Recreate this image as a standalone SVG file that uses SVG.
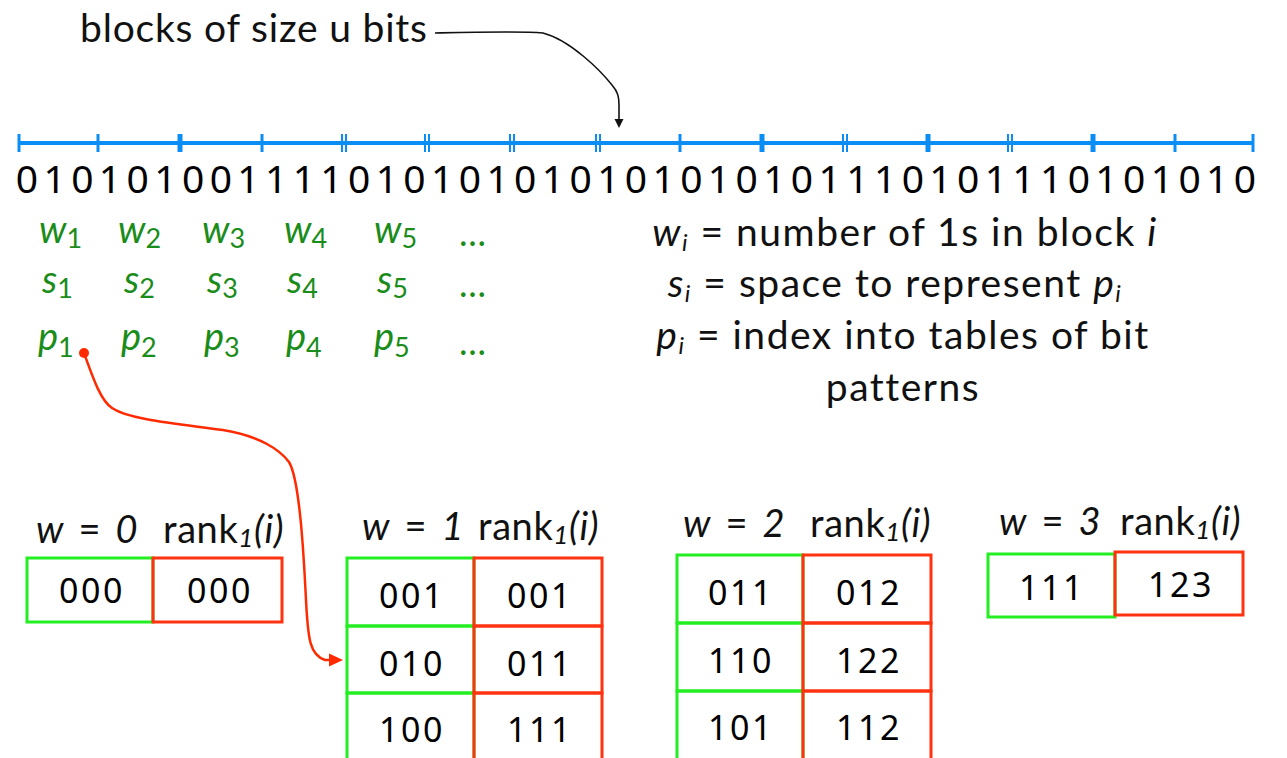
<svg xmlns="http://www.w3.org/2000/svg" width="1287" height="758" viewBox="0 0 1287 758">
<style>
.t{font-family:Lato,"Liberation Sans",sans-serif;font-size:39px;fill:#111;letter-spacing:1.5px}
.g{font-family:Lato,"Liberation Sans",sans-serif;fill:#1a8c1a}
.it{font-style:italic}
.sub{font-size:27px}
.bits{font-family:"Noto Sans","DejaVu Sans",sans-serif;font-size:39px;fill:#000}
.cell{font-family:"Noto Sans","DejaVu Sans",sans-serif;font-size:34px;fill:#000;letter-spacing:2.5px;text-anchor:middle}
.hd{font-family:Lato,"Liberation Sans",sans-serif;font-size:38px;fill:#111;letter-spacing:0.6px}
.gb{fill:none;stroke:#22ee22;stroke-width:3}
.rb{fill:none;stroke:#ff3311;stroke-width:3}
.bl{stroke:#0a8ef5;fill:none}
</style>
<rect width="1287" height="758" fill="#fff"/>

<g id="title">
<text class="t" x="80" y="42" style="letter-spacing:0.8px">blocks of size u bits</text>
</g>

<g id="bitline">
<line class="bl" x1="18" y1="143" x2="1253" y2="143" stroke-width="4"/>
<g class="bl" stroke-width="3">
<line x1="19" y1="134" x2="19" y2="152"/>
<line x1="98" y1="134" x2="98" y2="152"/>
<line x1="262" y1="134" x2="262" y2="152"/>
<line x1="680" y1="134" x2="680" y2="152"/>
<line x1="1175" y1="134" x2="1175" y2="152"/>
<line x1="1253" y1="134" x2="1253" y2="152"/>
</g>
<g class="bl" stroke-width="5">
<line x1="180" y1="134" x2="180" y2="152"/>
<line x1="762" y1="134" x2="762" y2="152"/>
<line x1="928" y1="134" x2="928" y2="152"/>
<line x1="1093" y1="134" x2="1093" y2="152"/>
</g>
<g class="bl" stroke-width="2">
<line x1="342" y1="134" x2="342" y2="152"/><line x1="346" y1="134" x2="346" y2="152"/>
<line x1="425" y1="134" x2="425" y2="152"/><line x1="429" y1="134" x2="429" y2="152"/>
<line x1="510" y1="134" x2="510" y2="152"/><line x1="514" y1="134" x2="514" y2="152"/>
<line x1="596" y1="134" x2="596" y2="152"/><line x1="600" y1="134" x2="600" y2="152"/>
<line x1="843" y1="134" x2="843" y2="152"/><line x1="847" y1="134" x2="847" y2="152"/>
<line x1="1008" y1="134" x2="1008" y2="152"/><line x1="1012" y1="134" x2="1012" y2="152"/>
</g>
</g>

<g id="bits">
<text class="bits" text-anchor="middle" y="193" x="27 54.7 82.4 110 137.7 165.4 193.1 220.8 248.4 276.1 303.8 331.5 359.2 386.8 414.5 442.2 469.9 497.6 525.2 552.9 580.6 608.3 636 663.6 691.3 719 746.7 774.4 802 829.7 857.4 885.1 912.8 940.4 968.1 995.8 1023.5 1051.2 1078.8 1106.5 1134.2 1161.9 1189.6 1217.2 1244.9">010101001111010101010101010101110101110101010</text>
</g>

<g id="labels" class="g">
<text x="39" y="243"><tspan class="it" font-size="38">w</tspan><tspan class="sub" dy="5">1</tspan></text>
<text x="118" y="243"><tspan class="it" font-size="38">w</tspan><tspan class="sub" dy="5">2</tspan></text>
<text x="202" y="243"><tspan class="it" font-size="38">w</tspan><tspan class="sub" dy="5">3</tspan></text>
<text x="284" y="243"><tspan class="it" font-size="38">w</tspan><tspan class="sub" dy="5">4</tspan></text>
<text x="374" y="243"><tspan class="it" font-size="38">w</tspan><tspan class="sub" dy="5">5</tspan></text>
<text x="459" y="246" font-size="36">…</text>
<text x="42" y="293"><tspan class="it" font-size="38">s</tspan><tspan class="sub" dy="5">1</tspan></text>
<text x="124" y="293"><tspan class="it" font-size="38">s</tspan><tspan class="sub" dy="5">2</tspan></text>
<text x="207" y="293"><tspan class="it" font-size="38">s</tspan><tspan class="sub" dy="5">3</tspan></text>
<text x="287" y="293"><tspan class="it" font-size="38">s</tspan><tspan class="sub" dy="5">4</tspan></text>
<text x="377" y="293"><tspan class="it" font-size="38">s</tspan><tspan class="sub" dy="5">5</tspan></text>
<text x="459" y="297" font-size="36">…</text>
<text x="38" y="350"><tspan class="it" font-size="38">p</tspan><tspan class="sub" dy="7">1</tspan></text>
<text x="121" y="350"><tspan class="it" font-size="38">p</tspan><tspan class="sub" dy="7">2</tspan></text>
<text x="204" y="350"><tspan class="it" font-size="38">p</tspan><tspan class="sub" dy="7">3</tspan></text>
<text x="286" y="350"><tspan class="it" font-size="38">p</tspan><tspan class="sub" dy="7">4</tspan></text>
<text x="374" y="350"><tspan class="it" font-size="38">p</tspan><tspan class="sub" dy="7">5</tspan></text>
<text x="459" y="355" font-size="36">…</text>
</g>

<g id="legend" class="t" text-anchor="middle">
<text x="905" y="246"><tspan class="it">w</tspan><tspan font-size="24" class="it" dy="5">i</tspan><tspan dy="-5"> = number of 1s in block </tspan><tspan class="it">i</tspan></text>
<text x="895" y="297"><tspan class="it">s</tspan><tspan font-size="24" class="it" dy="5">i</tspan><tspan dy="-5"> = space to represent </tspan><tspan class="it">p</tspan><tspan font-size="24" class="it" dy="5">i</tspan></text>
<text x="903" y="349"><tspan class="it">p</tspan><tspan font-size="24" class="it" dy="5">i</tspan><tspan dy="-5"> = index into tables of bit</tspan></text>
<text x="903" y="401">patterns</text>
</g>

<g id="table0">
<text class="hd" x="36" y="543" word-spacing="4"><tspan class="it">w</tspan> = <tspan class="it">0</tspan></text>
<text class="hd" x="163" y="543">rank<tspan class="it" font-size="26" dy="4">1</tspan><tspan class="it" dy="-4">(i)</tspan></text>
<rect class="gb" x="27" y="558" width="126" height="64"/>
<rect class="rb" x="153" y="558" width="129" height="64"/>
<text class="cell" x="92" y="603">000</text>
<text class="cell" x="220" y="603">000</text>
</g>

<g id="table1">
<text class="hd" x="362" y="540" word-spacing="4"><tspan class="it">w</tspan> = <tspan class="it">1</tspan></text>
<text class="hd" x="478" y="540">rank<tspan class="it" font-size="26" dy="4">1</tspan><tspan class="it" dy="-4">(i)</tspan></text>
<rect class="gb" x="347" y="558" width="127" height="68"/>
<rect class="gb" x="347" y="626" width="127" height="67"/>
<rect class="gb" x="347" y="693" width="127" height="80"/>
<rect class="rb" x="474" y="558" width="128" height="68"/>
<rect class="rb" x="474" y="626" width="128" height="67"/>
<rect class="rb" x="474" y="693" width="128" height="80"/>
<text class="cell" x="412" y="608">001</text>
<text class="cell" x="540" y="608">001</text>
<text class="cell" x="412" y="676">010</text>
<text class="cell" x="540" y="676">011</text>
<text class="cell" x="412" y="742">100</text>
<text class="cell" x="540" y="742">111</text>
</g>

<g id="table2">
<text class="hd" x="683" y="537" word-spacing="4"><tspan class="it">w</tspan> = <tspan class="it">2</tspan></text>
<text class="hd" x="810" y="537">rank<tspan class="it" font-size="26" dy="4">1</tspan><tspan class="it" dy="-4">(i)</tspan></text>
<rect class="gb" x="677" y="555" width="126" height="68"/>
<rect class="gb" x="677" y="623" width="126" height="68"/>
<rect class="gb" x="677" y="691" width="126" height="80"/>
<rect class="rb" x="803" y="555" width="128" height="68"/>
<rect class="rb" x="803" y="623" width="128" height="68"/>
<rect class="rb" x="803" y="691" width="128" height="80"/>
<text class="cell" x="741" y="605">011</text>
<text class="cell" x="869" y="605">012</text>
<text class="cell" x="741" y="673">110</text>
<text class="cell" x="869" y="673">122</text>
<text class="cell" x="741" y="740">101</text>
<text class="cell" x="869" y="740">112</text>
</g>

<g id="table3">
<text class="hd" x="999" y="535" word-spacing="4"><tspan class="it">w</tspan> = <tspan class="it">3</tspan></text>
<text class="hd" x="1120" y="535">rank<tspan class="it" font-size="26" dy="4">1</tspan><tspan class="it" dy="-4">(i)</tspan></text>
<rect class="gb" x="988" y="554" width="127" height="63"/>
<rect class="rb" x="1115" y="552" width="128" height="63"/>
<text class="cell" x="1052" y="600">111</text>
<text class="cell" x="1181" y="597">123</text>
</g>

<g id="connectors">
<path d="M435,33 C480,32 520,31 543,33 C570,40 600,70 612,85 C618,92 619,97 619,105 L619,120" fill="none" stroke="#111" stroke-width="1.6"/>
<polygon points="614.5,119 623.5,119 619,128" fill="#111"/>
<circle cx="84" cy="353" r="5" fill="#ff2a00"/>
<path d="M84,353 C92,375 100,400 112,408 C130,420 180,424 223,430 C260,436 280,450 289,462 C300,480 304,560 306,600 C308,640 310,655 325,660 L331,660" fill="none" stroke="#ff2a00" stroke-width="2.5"/>
<polygon points="329,653.5 343,660 329,666.5" fill="#ff2a00"/>
</g>
</svg>
